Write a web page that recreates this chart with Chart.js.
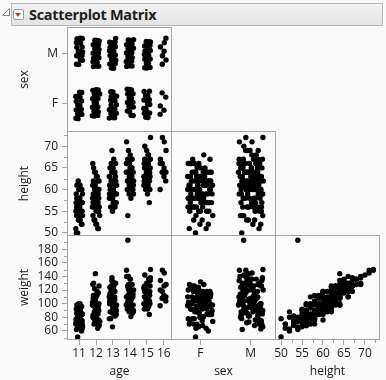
<!DOCTYPE html>
<html>
<head>
<meta charset="utf-8">
<script src="https://cdn.jsdelivr.net/npm/chart.js@4.4.1/dist/chart.umd.min.js"></script>
<style>
  html, body { margin: 0; padding: 0; background: #f9f9f9; }
  body { width: 386px; height: 380px; position: relative; overflow: hidden; font-family: "Open Sans", "Noto Sans", sans-serif; }
  .tri { position: absolute; left: 1px; top: 7px; }
  .bar { position: absolute; left: 11px; top: 3px; width: 370px; height: 21px; border: 1px solid #b9b9b9;
         background: linear-gradient(#f2f2f2, #e3e3e3); }
  .btn { position: absolute; left: 1px; top: 5px; width: 9px; height: 9px; border: 1px solid #9a9a9a; border-radius: 2px; background: #fff; }
  .btn::after { content: ""; position: absolute; left: 1px; top: 3px; border-left: 3.5px solid transparent; border-right: 3.5px solid transparent; border-top: 4px solid #d23a1e; }
  .ttl { position: absolute; left: 17px; top: 1px; font-weight: bold; font-size: 14.5px; color: #1e1e1e; letter-spacing: -0.3px; }
  canvas { position: absolute; }
</style>
</head>
<body>
<svg class="tri" width="10" height="10"><polygon points="8.5,1.5 8.5,8.5 1.5,8.5" fill="none" stroke="#8c8c8c" stroke-width="1"/></svg>
<div class="bar"><span class="btn"></span><span class="ttl">Scatterplot Matrix</span></div>

<canvas id="p00"></canvas>
<canvas id="p10"></canvas>
<canvas id="p11"></canvas>
<canvas id="p20"></canvas>
<canvas id="p21"></canvas>
<canvas id="p22"></canvas>

<script>
// students grouped by age; one inner list per age, same order in height and weight
const ages = [11, 12, 13, 14, 15, 16];
const heightF = [
  [50,51,52,53,54,55,55,56,56,57,57,58,58,59,60,61,62],
  [51,52,53,54,55,55,56,56,57,57,58,58,59,59,60,61,62,63,64,66],
  [55,56,57,57,58,58,59,59,60,60,61,61,62,62,63,64,65,66,58],
  [58,59,60,60,61,61,62,62,63,63,64,64,65,66,67,61,62,63],
  [57,59,60,61,62,62,63,63,64,64,65,66,67,68,61,62],
  [60,62,63,64,66]
];
const weightF = [
  [51,70,60,75,64,72,85,68,90,77,96,80,70,92,84,100,88],
  [64,80,70,74,92,80,78,98,85,110,88,102,96,112,104,98,116,112,122,128],
  [66,78,84,100,86,104,90,110,95,118,98,106,104,124,110,118,132,126,78],
  [81,88,92,110,96,118,100,114,106,124,110,98,116,120,126,88,96,102],
  [84,92,96,100,104,118,108,124,112,100,116,122,118,128,110,92],
  [97,104,112,108,120]
];
const heightM = [
  [50,52,53,53,54,55,55,56,56,57,57,58,58,59,60,60,61,54],
  [51,52,53,54,55,56,56,57,58,58,59,59,60,60,61,62,62,63,64,65,56,58],
  [56,57,58,59,59,60,60,61,61,62,62,63,63,64,64,65,66,67,69,60,62],
  [54,59,60,61,62,62,63,63,64,64,65,65,66,66,67,68,69,71,60,62,64,66],
  [60,61,62,63,63,64,64,65,65,66,66,67,67,68,69,70,72,62,64,66],
  [64,65,66,67,69,71,72]
];
const weightM = [
  [78,63,68,82,62,75,90,73,86,70,94,82,98,85,76,100,92,66],
  [70,88,72,80,76,100,86,83,90,112,94,108,100,118,105,112,126,116,144,130,68,76],
  [82,94,88,100,84,98,116,104,92,108,120,114,98,120,134,124,130,126,138,88,96],
  [193,90,96,102,104,120,108,126,112,98,118,136,122,110,128,136,140,149,86,94,128,140],
  [100,104,106,110,126,114,120,118,134,110,128,126,138,136,130,142,150,96,108,118],
  [110,126,118,134,128,145,149]
];

const sexCats = ['F', 'M'];
const ageTicks = [11, 12, 13, 14, 15, 16];
const heightTicks = [50, 55, 60, 65, 70];
const heightMinor = [52.5, 57.5, 62.5, 67.5, 72.5];
const weightTicks = [60, 80, 100, 120, 140, 160, 180];
const weightMinor = [50, 70, 90, 110, 130, 150, 170, 190];

// flatten the groups into rows
const rows = [];
ages.forEach((a, g) => {
  [[heightF, weightF, 0], [heightM, weightM, 1]].forEach(([hs, ws, s]) => {
    const k = Math.min(hs[g].length, ws[g].length);
    for (let j = 0; j < k; j++) rows.push({ age: a, sex: s, height: hs[g][j], weight: ws[g][j] });
  });
});

// axis ranges (x and y versions differ slightly, as in the picture)
const axes = {
  x: {
    age:    { min: 10.29, max: 16.48, ticks: ageTicks, minor: [] },
    sex:    { min: -0.58, max: 1.50, ticks: [0, 1], minor: [], names: sexCats },
    height: { min: 48.55, max: 73.6, ticks: heightTicks, minor: heightMinor }
  },
  y: {
    sex:    { min: -0.56, max: 1.52, ticks: [0, 1], minor: [], names: sexCats },
    height: { min: 49.3, max: 73.5, ticks: heightTicks, minor: heightMinor },
    weight: { min: 46.7, max: 200.7, ticks: weightTicks, minor: weightMinor }
  }
};

// categorical columns are spread sideways like JMP's jitter (R2 sequence offsets)
const jitter = { age: 0.44, sex: 0.5 };
const spreadX = i => ((i * 0.7548776662 + 0.31) % 1) - 0.5;
const spreadY = i => ((i * 0.5698402910 + 0.17) % 1) - 0.5;

const LINE = '#a3a3a3';
const FONT = { family: '"Open Sans", "Noto Sans", sans-serif', size: 12 };
const P = 12, YW = 67, XH = 41, S = 105;
const colX = [67, 171, 275], rowY = [27, 131, 235];

const frame = {
  id: 'frame',
  beforeDraw(chart) {
    const a = chart.chartArea, c = chart.ctx;
    c.save();
    c.fillStyle = '#fbfbfb';
    c.fillRect(a.left, a.top, a.right - a.left, a.bottom - a.top);
    c.restore();
  },
  afterDraw(chart) {
    const a = chart.chartArea, c = chart.ctx;
    c.save();
    c.strokeStyle = LINE;
    c.lineWidth = 1;
    c.strokeRect(a.left + 0.5, a.top + 0.5, a.right - a.left - 1, a.bottom - a.top - 1);
    // short minor ticks
    ['x', 'y'].forEach(id => {
      const s = chart.scales[id];
      if (!s.options.display) return;
      c.beginPath();
      (s.options.minorTicks || []).forEach(v => {
        const p = Math.round(s.getPixelForValue(v)) + 0.5;
        if (id === 'x') { c.moveTo(p, a.bottom); c.lineTo(p, a.bottom + 3); }
        else { c.moveTo(a.left - 3, p); c.lineTo(a.left, p); }
      });
      c.stroke();
    });
    c.restore();
  }
};

function scale(dir, name, show) {
  const a = axes[dir][name];
  return {
    type: 'linear',
    position: dir === 'x' ? 'bottom' : 'left',
    display: show,
    min: a.min,
    max: a.max,
    minorTicks: a.minor,
    afterBuildTicks: s => { s.ticks = a.ticks.map(v => ({ value: v })); },
    afterFit: s => {
      if (!show) { s.width = 0; s.height = 0; return; }
      if (dir === 'x') s.height = XH; else s.width = YW;
    },
    grid: { drawOnChartArea: false, drawTicks: true, tickLength: 5, color: LINE },
    border: { display: false },
    ticks: {
      autoSkip: false, maxRotation: 0, color: '#1a1a1a', font: FONT,
      padding: dir === 'x' ? 1 : 4,
      callback: v => a.names ? a.names[v] : String(v)
    },
    title: {
      display: true, text: name, color: '#1a1a1a', font: FONT,
      padding: dir === 'x' ? { top: 0, bottom: 2 } : { top: 17, bottom: 0 }
    }
  };
}

function panel(id, r, c, xName, yName) {
  const showY = c === 0, showX = r === 2;
  const left = colX[c] - (showY ? YW : P);
  const top = rowY[r] - P;
  const w = (showY ? YW : P) + S + P;
  const h = P + S + (showX ? XH : P);
  const cv = document.getElementById(id);
  cv.width = w; cv.height = h;
  cv.style.left = left + 'px'; cv.style.top = top + 'px';
  cv.style.width = w + 'px'; cv.style.height = h + 'px';

  const pts = rows.map((row, i) => {
    let x = row[xName], y = row[yName];
    if (jitter[xName]) x += spreadX(i) * jitter[xName];
    if (jitter[yName]) y += spreadY(i) * 0.6;
    return { x, y };
  });

  new Chart(cv.getContext('2d'), {
    type: 'scatter',
    data: { datasets: [{ data: pts, backgroundColor: '#000', borderWidth: 0, pointRadius: 2.7, pointHoverRadius: 2.7 }] },
    options: {
      responsive: false, animation: false, devicePixelRatio: 1,
      layout: { padding: { left: showY ? 0 : P, right: P, top: P, bottom: showX ? 0 : P } },
      plugins: { legend: { display: false }, tooltip: { enabled: false } },
      scales: { x: scale('x', xName, showX), y: scale('y', yName, showY) }
    },
    plugins: [frame]
  });
}

panel('p00', 0, 0, 'age', 'sex');
panel('p10', 1, 0, 'age', 'height');
panel('p11', 1, 1, 'sex', 'height');
panel('p20', 2, 0, 'age', 'weight');
panel('p21', 2, 1, 'sex', 'weight');
panel('p22', 2, 2, 'height', 'weight');
</script>
</body>
</html>
